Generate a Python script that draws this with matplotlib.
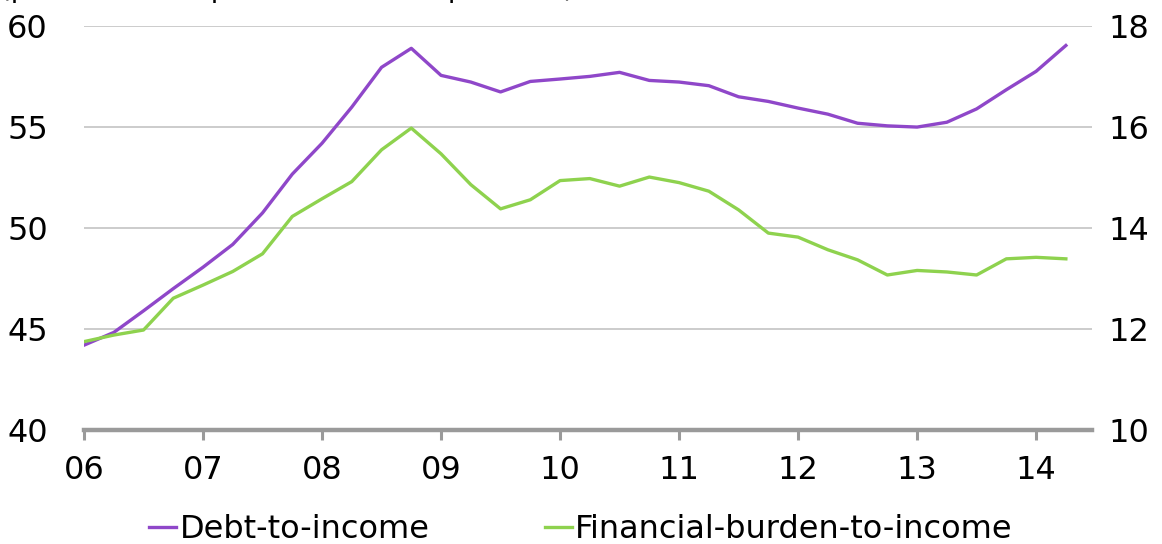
import numpy as np
import matplotlib
matplotlib.use("Agg")
import matplotlib.pyplot as plt

# quarterly observations, 2006Q1 .. 2014Q2
start_year = 2006
debt_to_income = [
    44.2, 44.83, 45.9, 47.0, 48.06, 49.19, 50.75, 52.67, 54.2, 55.99,
    57.96, 58.9, 57.56, 57.23, 56.74, 57.26, 57.38, 57.51, 57.71, 57.31,
    57.23, 57.05, 56.5, 56.27, 55.94, 55.64, 55.19, 55.06, 55.0, 55.24,
    55.9, 56.85, 57.76, 59.04,
]
burden_to_income = [
    11.75, 11.88, 11.98, 12.61, 12.87, 13.14, 13.49, 14.23, 14.58, 14.92,
    15.55, 15.98, 15.47, 14.86, 14.38, 14.56, 14.94, 14.98, 14.83, 15.01,
    14.9, 14.73, 14.36, 13.9, 13.82, 13.57, 13.37, 13.07, 13.16, 13.13,
    13.07, 13.39, 13.42, 13.39,
]
year_ticks = list(range(2006, 2015))
year_labels = ["06", "07", "08", "09", "10", "11", "12", "13", "14"]
left_ticks = [40, 45, 50, 55, 60]
right_ticks = [10, 12, 14, 16, 18]

purple = "#8f47c9"
green = "#8ed24e"
axis_grey = "#9a9a9a"

plt.rcParams["font.family"] = ["DejaVu Sans"]
fs = 23

x = start_year + np.arange(len(debt_to_income)) / 4.0

fig = plt.figure(figsize=(11.62, 5.44), dpi=100)
ax = fig.add_axes([0.0723, 0.2096, 0.8675, 0.7424])
ax2 = ax.twinx()

l1, = ax.plot(x, debt_to_income, color=purple, lw=2.4, label="Debt-to-income")
l2, = ax2.plot(x, burden_to_income, color=green, lw=2.4,
               label="Financial-burden-to-income")

ax.set_xlim(2006, 2014.47)
ax.set_ylim(40, 60)
ax2.set_ylim(10, 18)
ax.set_yticks(left_ticks)
ax2.set_yticks(right_ticks)
ax.set_xticks(year_ticks)
ax.set_xticklabels(year_labels)

ax.grid(axis="y", color="#c8c8c8", lw=1.3)
ax.set_axisbelow(True)
for a in (ax, ax2):
    for s in ("top", "left", "right", "bottom"):
        a.spines[s].set_visible(False)
ax.spines["bottom"].set_visible(True)
ax.spines["bottom"].set_color(axis_grey)
ax.spines["bottom"].set_linewidth(3.2)

ax.tick_params(axis="x", direction="out", length=7, width=2.2,
               color=axis_grey, labelsize=fs, pad=11)
ax.tick_params(axis="y", length=0, labelsize=fs, pad=26)
ax2.tick_params(axis="y", length=0, labelsize=fs, pad=12)

fig.legend(handles=[l1, l2], loc="lower center", bbox_to_anchor=(0.5, -0.055),
           ncol=2, frameon=False, fontsize=fs, handlelength=0.85,
           handletextpad=0.1, columnspacing=3.6)

# heading above the chart, cut off at the top edge in the source
fig.text(0.0, 1.006, "(per cent of disposable income; per cent)",
         fontsize=fs - 3, va="baseline", ha="left")

fig.savefig("out.png", dpi=100)
